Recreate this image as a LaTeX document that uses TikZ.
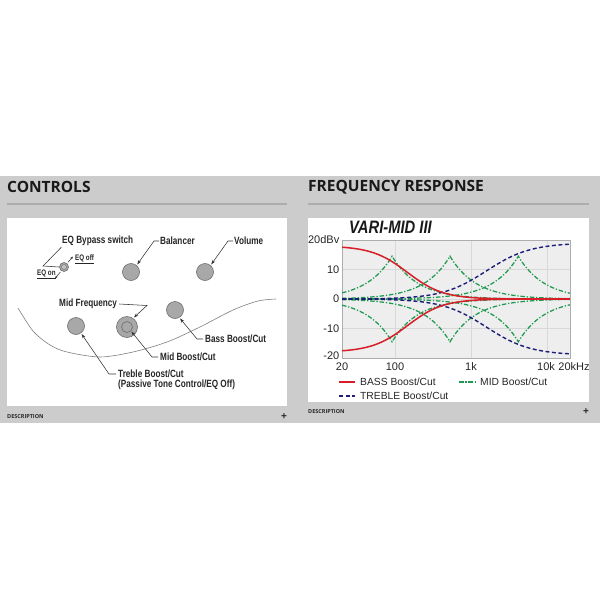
\documentclass[tikz,border=0pt]{standalone}
\usepackage{fontspec}
\setmainfont{Liberation Sans}
\newfontfamily\titlefont{Open Sans}
\newfontfamily\condfont[FakeStretch=0.78]{Liberation Sans}
\newfontfamily\varifont[FakeStretch=0.82]{Liberation Sans}
\usetikzlibrary{arrows.meta}
\definecolor{band}{HTML}{CCCCCC}
\definecolor{divline}{HTML}{ADADAD}
\definecolor{knobfill}{HTML}{A8A8A8}
\definecolor{knobedge}{HTML}{6E6E6E}
\definecolor{plotbg}{HTML}{EEEEEE}
\definecolor{gridc}{HTML}{D8D8D8}
\definecolor{bassred}{HTML}{D81E28}
\definecolor{trebnavy}{HTML}{1E1E78}
\definecolor{midgreen}{HTML}{1E9A50}
\begin{document}
\begin{tikzpicture}[x=1pt,y=-1pt,
  title/.style={font=\titlefont\bfseries\fontsize{15.5}{18}\selectfont, text=black!90, inner sep=0pt, anchor=west},
  desc/.style={font=\titlefont\bfseries\fontsize{5.5}{6}\selectfont, text=black!85, inner sep=0pt, anchor=west},
  plus/.style={font=\bfseries\fontsize{10}{10}\selectfont, text=black!85, inner sep=0pt},
  lbl/.style={font=\condfont\bfseries\fontsize{10.5}{12}\selectfont, text=black!85, inner sep=0pt},
  small/.style={font=\condfont\bfseries\fontsize{8}{9}\selectfont, text=black!85, inner sep=0pt},
  knob/.style={circle, draw=knobedge, fill=knobfill, line width=0.6pt, minimum size=17pt, inner sep=0pt},
  leader/.style={draw=black!80, line width=0.55pt},
  arr/.style={leader, -{Stealth[length=4.5pt,width=3pt]}},
  sarr/.style={leader, -{Stealth[length=3pt,width=2.2pt]}},
  body/.style={draw=black!50, line width=0.6pt},
  axlbl/.style={font=\fontsize{11}{12}\selectfont, text=black!85, inner sep=0pt},
  leg/.style={font=\fontsize{10.3}{12}\selectfont, text=black!85, inner sep=0pt, anchor=west},
  basscurve/.style={draw=bassred, line width=1.5pt},
  trebcurve/.style={draw=trebnavy, line width=1.4pt, dash pattern=on 4pt off 2.5pt},
  midcurve/.style={draw=midgreen, line width=1.25pt, dash pattern=on 4.5pt off 1.8pt on 1.3pt off 1.8pt}
]
\useasboundingbox (0,0) rectangle (600,600);
\fill[white] (0,0) rectangle (600,600);
\fill[band] (0,176) rectangle (600,423);
% ---------- left panel ----------
\node[title] (ctl) at (7,187) {CONTROLS};
\draw[divline, line width=1.5pt] (7,204) -- (287,204);
\fill[white] (7,218) rectangle (287,406);
\node[desc] (d1) at (7,417) {DESCRIPTION};
\node[plus] (p1) at (284,417) {+};

% body edge
\draw[body] plot[smooth] coordinates {(18,308) (33,331) (50,345) (67,352) (100,357) (133,352) (167,342) (200,327) (233,310) (258,301) (276,299)};

% knobs
\node[knob] (bal) at (131,272) {};
\node[knob] (vol) at (205,272) {};
\node[knob] (tre) at (76,326) {};
\node[knob] (bass) at (175,310) {};
\node[knob, minimum size=21pt] (mid) at (127,327) {};
\node[circle, draw=knobedge, fill=knobfill, line width=0.6pt, minimum size=11pt, inner sep=0pt] (midin) at (127,327) {};
\node[circle, draw=knobedge, fill=knobfill, line width=0.6pt, minimum size=9pt, inner sep=0pt] (sw) at (64,267) {};
\node[circle, draw=knobedge, fill=knobfill!70!white, line width=0.4pt, minimum size=5pt, inner sep=0pt] (swin) at (64,267) {};

% labels
\node[lbl, anchor=west] (eqb) at (62,241) {EQ Bypass switch};
\node[lbl, anchor=west] (balt) at (160,241) {Balancer};
\node[lbl, anchor=west] (volt) at (234,241) {Volume};
\node[small, anchor=west] (eqoff) at (75,259) {\underline{EQ off}};
\node[small, anchor=west] (eqon) at (37,274) {\underline{EQ on}};
\node[lbl, anchor=west] (mft) at (59,304) {Mid Frequency};
\node[lbl, anchor=west] (bct) at (205,339) {Bass Boost/Cut};
\node[lbl, anchor=west] (mct) at (160,357) {Mid Boost/Cut};
\node[lbl, anchor=west] (tct1) at (118,374) {Treble Boost/Cut};
\node[lbl, anchor=west] (tct2) at (118,385) {(Passive Tone Control/EQ Off)};

% leaders
\draw[leader] (eqb.south west) ++(-0.5,1) -- (43,266) -- (sw.west);
\coordinate (offtip) at (73,256.5);
\coordinate (ontip) at (55,278.5);
\draw[sarr, shorten <=1.5pt] (sw.50) -- (offtip);
\draw[sarr, shorten <=1.5pt] (sw.235) -- (ontip);
\draw[arr, shorten >=1pt] (balt.west) ++(-1,0) -- (154,241) -- (bal.50);
\draw[arr, shorten >=1pt] (volt.west) ++(-1,0) -- (228,241) -- (vol.50);
\draw[arr, shorten >=1pt] ([xshift=2pt]mft.east) -- (147,305.5) -- (mid.55);
\draw[arr, shorten >=1pt] ([xshift=-2pt]bct.west) -- (197,339) -- (bass.-60);
\draw[arr, shorten >=0.5pt] ([xshift=-2pt]mct.west) -- (152,357) -- (midin.-45);
\draw[arr, shorten >=1pt] ([xshift=-2pt]tct1.west) -- (109,374) -- (tre.-55);

% ---------- right panel ----------
\node[title] (frt) at (308,187) {FREQUENCY RESPONSE};
\draw[divline, line width=1.5pt] (308,204) -- (589,204);
\fill[white] (308,218) rectangle (589,402);
\node[desc] (d2) at (308,412) {DESCRIPTION};
\node[plus] (p2) at (586,412) {+};

\node[font=\varifont\bfseries\itshape\fontsize{18}{20}\selectfont, inner sep=0pt, anchor=west, text=black!90] (vm) at (349,227) {VARI-MID III};

% plot area
\fill[plotbg] (342,240) rectangle (570,358);
\foreach \gx in {395,471,547} \draw[gridc, line width=0.8pt] (\gx,240) -- (\gx,358);
\foreach \gy in {269.5,299,328.5} \draw[gridc, line width=0.8pt] (342,\gy) -- (570,\gy);
\draw[gridc!80!black, line width=0.5pt] (342,240) rectangle (570,358);

\begin{scope}
\clip (342,239) rectangle (570,359);
% mid
\foreach \c in {1.96,2.722,3.621}{
  \draw[midcurve] plot[domain=1.30103:\c, samples=80] ({342+76*(\x-1.30103)}, {299-2.95*14.5*exp(-abs(\x-\c)/0.34)})
     -- plot[domain=\c:4.30103, samples=80] ({342+76*(\x-1.30103)}, {299-2.95*14.5*exp(-abs(\x-\c)/0.34)});
  \draw[midcurve] plot[domain=1.30103:\c, samples=80] ({342+76*(\x-1.30103)}, {299+2.95*14.5*exp(-abs(\x-\c)/0.34)})
     -- plot[domain=\c:4.30103, samples=80] ({342+76*(\x-1.30103)}, {299+2.95*14.5*exp(-abs(\x-\c)/0.34)});
}
% treble
\draw[trebcurve] plot[domain=1.30103:4.30103, samples=120] ({342+76*(\x-1.30103)}, {299-2.95*19/(1+exp(-(\x-3.2)/0.29))});
\draw[trebcurve] plot[domain=1.30103:4.30103, samples=120] ({342+76*(\x-1.30103)}, {299+2.95*19/(1+exp(-(\x-3.2)/0.29))});
% bass
\draw[basscurve] plot[domain=1.30103:4.30103, samples=120] ({342+76*(\x-1.30103)}, {299-2.95*18/(1+exp((\x-2.163)/0.2348))});
\draw[basscurve] plot[domain=1.30103:4.30103, samples=120] ({342+76*(\x-1.30103)}, {299+2.95*18/(1+exp((\x-2.163)/0.2348))});
\end{scope}

% axis labels
\node[axlbl, anchor=east] (y20) at (339.5,240) {20dBv};
\node[axlbl, anchor=east] (y10) at (339.5,269.5) {10};
\node[axlbl, anchor=east] (y0) at (339.5,299) {0};
\node[axlbl, anchor=east] (ym10) at (339.5,328.5) {-10};
\node[axlbl, anchor=east] (ym20) at (339.5,355.5) {-20};
\node[axlbl] (x20) at (342,367) {20};
\node[axlbl] (x100) at (395,367) {100};
\node[axlbl] (x1k) at (471,367) {1k};
\node[axlbl] (x10k) at (546,367) {10k};
\node[axlbl] (x20k) at (574,367) {20kHz};

% legend
\coordinate (lb1) at (339,382);
\coordinate (lb2) at (355,382);
\draw[draw=bassred, line width=1.6pt] (lb1) -- (lb2);
\node[leg] (lbt) at (360,382) {BASS Boost/Cut};
\coordinate (lm1) at (459,382);
\coordinate (lm2) at (477,382);
\draw[midcurve] (lm1) -- (lm2);
\node[leg] (lmt) at (480,382) {MID Boost/Cut};
\coordinate (lt1) at (339,396);
\coordinate (lt2) at (355,396);
\draw[trebcurve] (lt1) -- (lt2);
\node[leg] (ltt) at (360,396) {TREBLE Boost/Cut};
\end{tikzpicture}
\end{document}
